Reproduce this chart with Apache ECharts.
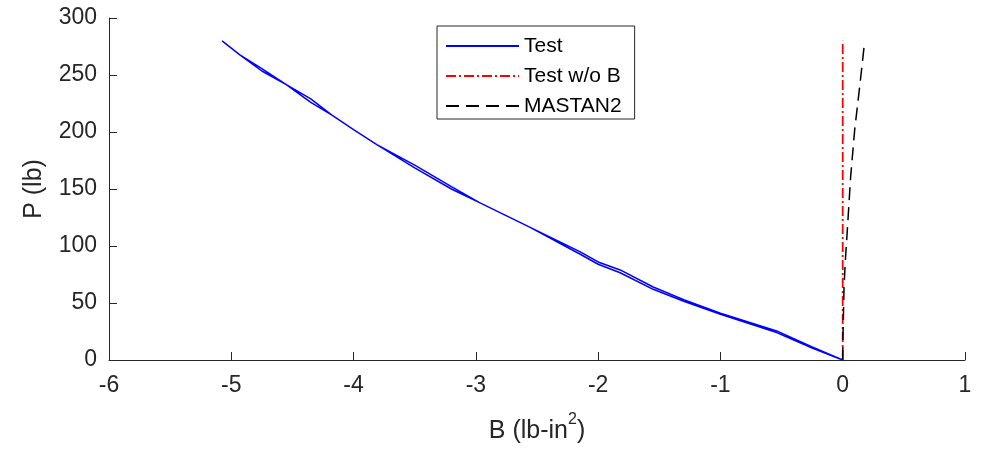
<!DOCTYPE html>
<html>
<head>
<meta charset="utf-8">
<script src="https://cdn.jsdelivr.net/npm/echarts@6/dist/echarts.min.js"></script>
<style>
html,body{margin:0;padding:0;background:#fff;}
#chart{width:986px;height:449px;}
</style>
</head>
<body>
<div id="chart"></div>
<script>
// Test (loading branch, origin -> peak)
var testLoadB = [0, -0.25, -0.54, -1.0, -1.3, -1.55, -1.82, -2.0, -2.15, -2.56, -2.97, -3.2, -3.5, -3.81, -4.0, -4.18, -4.35, -4.55, -4.75, -4.93, -5.075];
var testLoadP = [0, 11.5, 25.5, 41, 53, 64, 79, 86, 95, 116.5, 138, 152, 171, 189, 202, 215, 229, 241.5, 255.5, 267.7, 280];
// Test (unloading branch, peak -> origin)
var testUnloadB = [-5.075, -4.93, -4.75, -4.55, -4.35, -4.18, -4.0, -3.81, -3.5, -3.2, -2.97, -2.56, -2.15, -2.0, -1.82, -1.55, -1.3, -1.0, -0.54, -0.25, 0];
var testUnloadP = [280, 267.7, 253.5, 241.5, 226, 215, 202, 189, 168.5, 150, 138, 116.5, 93, 84, 76.5, 62, 51.5, 40.2, 24, 10.5, 0];
// Test w/o B
var woB_B = [0, 0];
var woB_P = [0, 280];
// MASTAN2
var mastanB = [0, 0.002, 0.006, 0.011, 0.022, 0.043, 0.065, 0.098, 0.139, 0.18];
var mastanP = [0, 20, 40, 65, 88, 123, 161, 202, 240, 280];

var seriesNames = ['Test', 'Test w/o B', 'MASTAN2'];
var xTicks = {min: -6, max: 1, interval: 1};
var yTicks = {min: 0, max: 300, interval: 50};

function zip(a, b) { return a.map(function (v, i) { return [v, b[i]]; }); }

var chart = echarts.init(document.getElementById('chart'));
var axisColor = '#262626';
var fontFam = '"Liberation Sans", Arial, Helvetica, sans-serif';
chart.setOption({
  animation: false,
  backgroundColor: '#ffffff',
  textStyle: {fontFamily: fontFam},
  grid: {left: 109, right: 21, top: 18, bottom: 88, containLabel: false},
  legend: {
    orient: 'vertical',
    left: 437, top: 26,
    padding: [9, 13, 2, 8],
    itemGap: 8,
    itemWidth: 73, itemHeight: 14,
    borderColor: axisColor, borderWidth: 1,
    backgroundColor: '#fff',
    itemStyle: {opacity: 0},
    textStyle: {fontSize: 21, color: '#000', fontFamily: fontFam, lineHeight: 22},
    data: seriesNames
  },
  xAxis: {
    type: 'value',
    min: xTicks.min, max: xTicks.max, interval: xTicks.interval,
    name: '{a|B (lb-in}{s|2}{a|)}',
    nameLocation: 'middle',
    nameGap: 52,
    nameTextStyle: {
      rich: {
        a: {fontSize: 25, lineHeight: 32, verticalAlign: 'bottom', color: '#262626', fontFamily: fontFam},
        s: {fontSize: 16, lineHeight: 16, verticalAlign: 'top', color: '#262626', fontFamily: fontFam}
      }
    },
    axisLine: {show: true, onZero: false, lineStyle: {color: axisColor, width: 1}},
    axisTick: {show: true, inside: true, length: 8, lineStyle: {color: axisColor}},
    axisLabel: {fontSize: 23, color: '#262626', margin: 14, fontFamily: fontFam},
    splitLine: {show: false}
  },
  yAxis: {
    type: 'value',
    min: yTicks.min, max: yTicks.max, interval: yTicks.interval,
    name: 'P (lb)',
    nameLocation: 'middle',
    nameGap: 62,
    nameTextStyle: {fontSize: 25, color: '#262626', fontFamily: fontFam},
    axisLine: {show: true, onZero: false, lineStyle: {color: axisColor, width: 1}},
    axisTick: {show: true, inside: true, length: 8, lineStyle: {color: axisColor}},
    axisLabel: {fontSize: 23, color: '#262626', margin: 12, fontFamily: fontFam},
    splitLine: {show: false}
  },
  series: [
    {
      name: seriesNames[0], type: 'line', symbol: 'none', smooth: false,
      data: zip(testLoadB, testLoadP).concat(zip(testUnloadB, testUnloadP)),
      lineStyle: {color: '#0000ff', width: 1.5},
      itemStyle: {color: '#0000ff'}
    },
    {
      name: seriesNames[1], type: 'line', symbol: 'none',
      data: zip(woB_B, woB_P),
      lineStyle: {color: '#ff0000', width: 1.8, type: [10, 3, 2, 3]},
      itemStyle: {color: '#ff0000'}
    },
    {
      name: seriesNames[2], type: 'line', symbol: 'none',
      data: zip(mastanB, mastanP),
      lineStyle: {color: '#000000', width: 1.5, type: [13, 7]},
      itemStyle: {color: '#000000'}
    }
  ]
});
</script>
</body>
</html>
